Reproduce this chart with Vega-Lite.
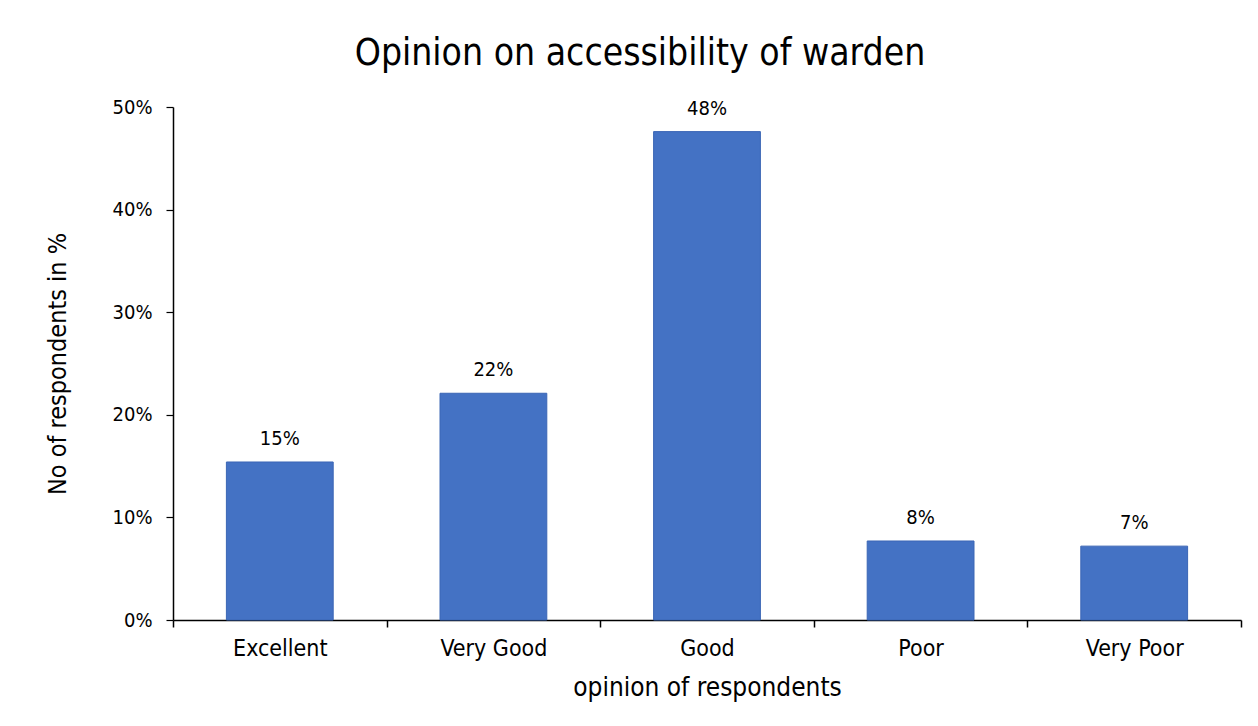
{
  "$schema": "https://vega.github.io/schema/vega-lite/v6.json",
  "width": 1068,
  "height": 513,
  "autosize": {"type": "none"},
  "padding": {"left": 173, "top": 107, "right": 17, "bottom": 106},
  "background": "white",
  "config": {
    "font": "DejaVu Sans Condensed",
    "view": {"stroke": null},
    "axis": {"labelColor": "#000000", "titleColor": "#000000", "domainColor": "#000000", "tickColor": "#000000", "labelFont": "DejaVu Sans Condensed", "titleFont": "DejaVu Sans Condensed", "titleFontWeight": "normal"}
  },
  "title": {
    "text": "Opinion on accessibility of warden",
    "frame": "group",
    "anchor": "middle",
    "fontSize": 37,
    "font": "DejaVu Sans Condensed",
    "fontWeight": "normal",
    "color": "#000000",
    "baseline": "alphabetic",
    "offset": -5,
    "dx": -67
  },
  "data": {
    "values": [
      {"opinion": "Excellent", "pct": 0.154},
      {"opinion": "Very Good", "pct": 0.221},
      {"opinion": "Good", "pct": 0.476},
      {"opinion": "Poor", "pct": 0.077},
      {"opinion": "Very Poor", "pct": 0.072}
    ]
  },
  "encoding": {
    "x": {
      "field": "opinion",
      "type": "nominal",
      "sort": null,
      "scale": {"paddingInner": 0, "paddingOuter": 0},
      "axis": {
        "title": "opinion of respondents",
        "labelAngle": 0,
        "labelFontSize": 23,
        "titleFontSize": 26,
        "tickBand": "extent",
        "tickSize": 7,
        "domainWidth": 1.5,
        "tickWidth": 1.5,
        "labelPadding": 10,
        "titlePadding": 14
      }
    },
    "y": {
      "field": "pct",
      "type": "quantitative",
      "scale": {"domain": [0, 0.5]},
      "axis": {
        "title": "No of respondents in %",
        "format": ".0%",
        "values": [0, 0.1, 0.2, 0.3, 0.4, 0.5],
        "grid": false,
        "labelFontSize": 20,
        "titleFontSize": 25,
        "tickSize": 7,
        "domainWidth": 1.5,
        "tickWidth": 1.2,
        "labelPadding": 14,
        "titlePadding": 42
      }
    }
  },
  "layer": [
    {"mark": {"type": "bar", "color": "#4472C4", "stroke": "#3b66b5", "strokeWidth": 1, "width": {"band": 0.5}}},
    {
      "mark": {"type": "text", "dy": -17, "baseline": "alphabetic", "fontSize": 20, "color": "#000000"},
      "encoding": {"text": {"field": "pct", "type": "quantitative", "format": ".0%"}}
    }
  ]
}
